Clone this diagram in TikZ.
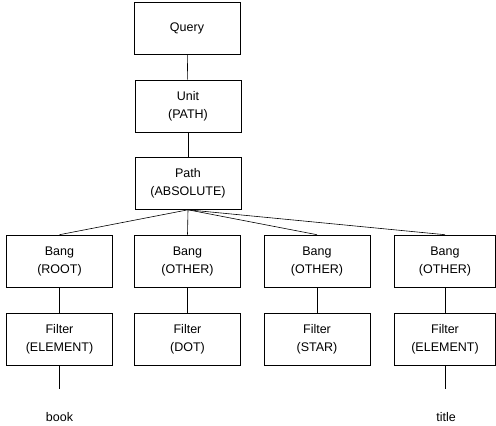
\documentclass[tikz,border=0pt]{standalone}
\usepackage{fontspec}
\setmainfont{Liberation Sans}
\begin{document}
\begin{tikzpicture}[x=1pt,y=-1pt,
  box/.style={draw, line width=0.6pt, minimum width=106pt, minimum height=52pt, inner sep=0pt, align=center, font=\fontsize{12.5}{18}\selectfont},
  link/.style={line width=0.6pt},
  lab/.style={font=\fontsize{12.5}{18}\selectfont}]
\useasboundingbox (0,0) rectangle (496,426);
\node[box] (query) at (187,28.5) {Query};
\node[box] (unit) at (188,106) {Unit\\(PATH)};
\node[box] (path) at (188,183.5) {Path\\(ABSOLUTE)};
\node[box] (b1) at (59.5,261) {Bang\\(ROOT)};
\node[box] (b2) at (187.5,261) {Bang\\(OTHER)};
\node[box] (b3) at (317,261) {Bang\\(OTHER)};
\node[box, minimum width=101pt] (b4) at (445,261) {Bang\\(OTHER)};
\node[box] (f1) at (59.5,339) {Filter\\(ELEMENT)};
\node[box] (f2) at (187.5,339) {Filter\\(DOT)};
\node[box] (f3) at (317,339) {Filter\\(STAR)};
\node[box, minimum width=101pt] (f4) at (445,339) {Filter\\(ELEMENT)};
\coordinate (e1) at (59.5,389);
\coordinate (e4) at (445,389);
\node[lab] (book) at (59.5,417) {book};
\node[lab] (title) at (446,417) {title};
\draw[link] (query) -- (unit);
\draw[link] (unit) -- (path);
\draw[link] (path.south) -- (b1.north);
\draw[link] (path.south) -- (b2.north);
\draw[link] (path.south) -- (b3.north);
\draw[link] (path.south) -- (b4.north);
\draw[link] (b1) -- (f1);
\draw[link] (b2) -- (f2);
\draw[link] (b3) -- (f3);
\draw[link] (b4) -- (f4);
\draw[link] (f1) -- (e1);
\draw[link] (f4) -- (e4);
\end{tikzpicture}
\end{document}
